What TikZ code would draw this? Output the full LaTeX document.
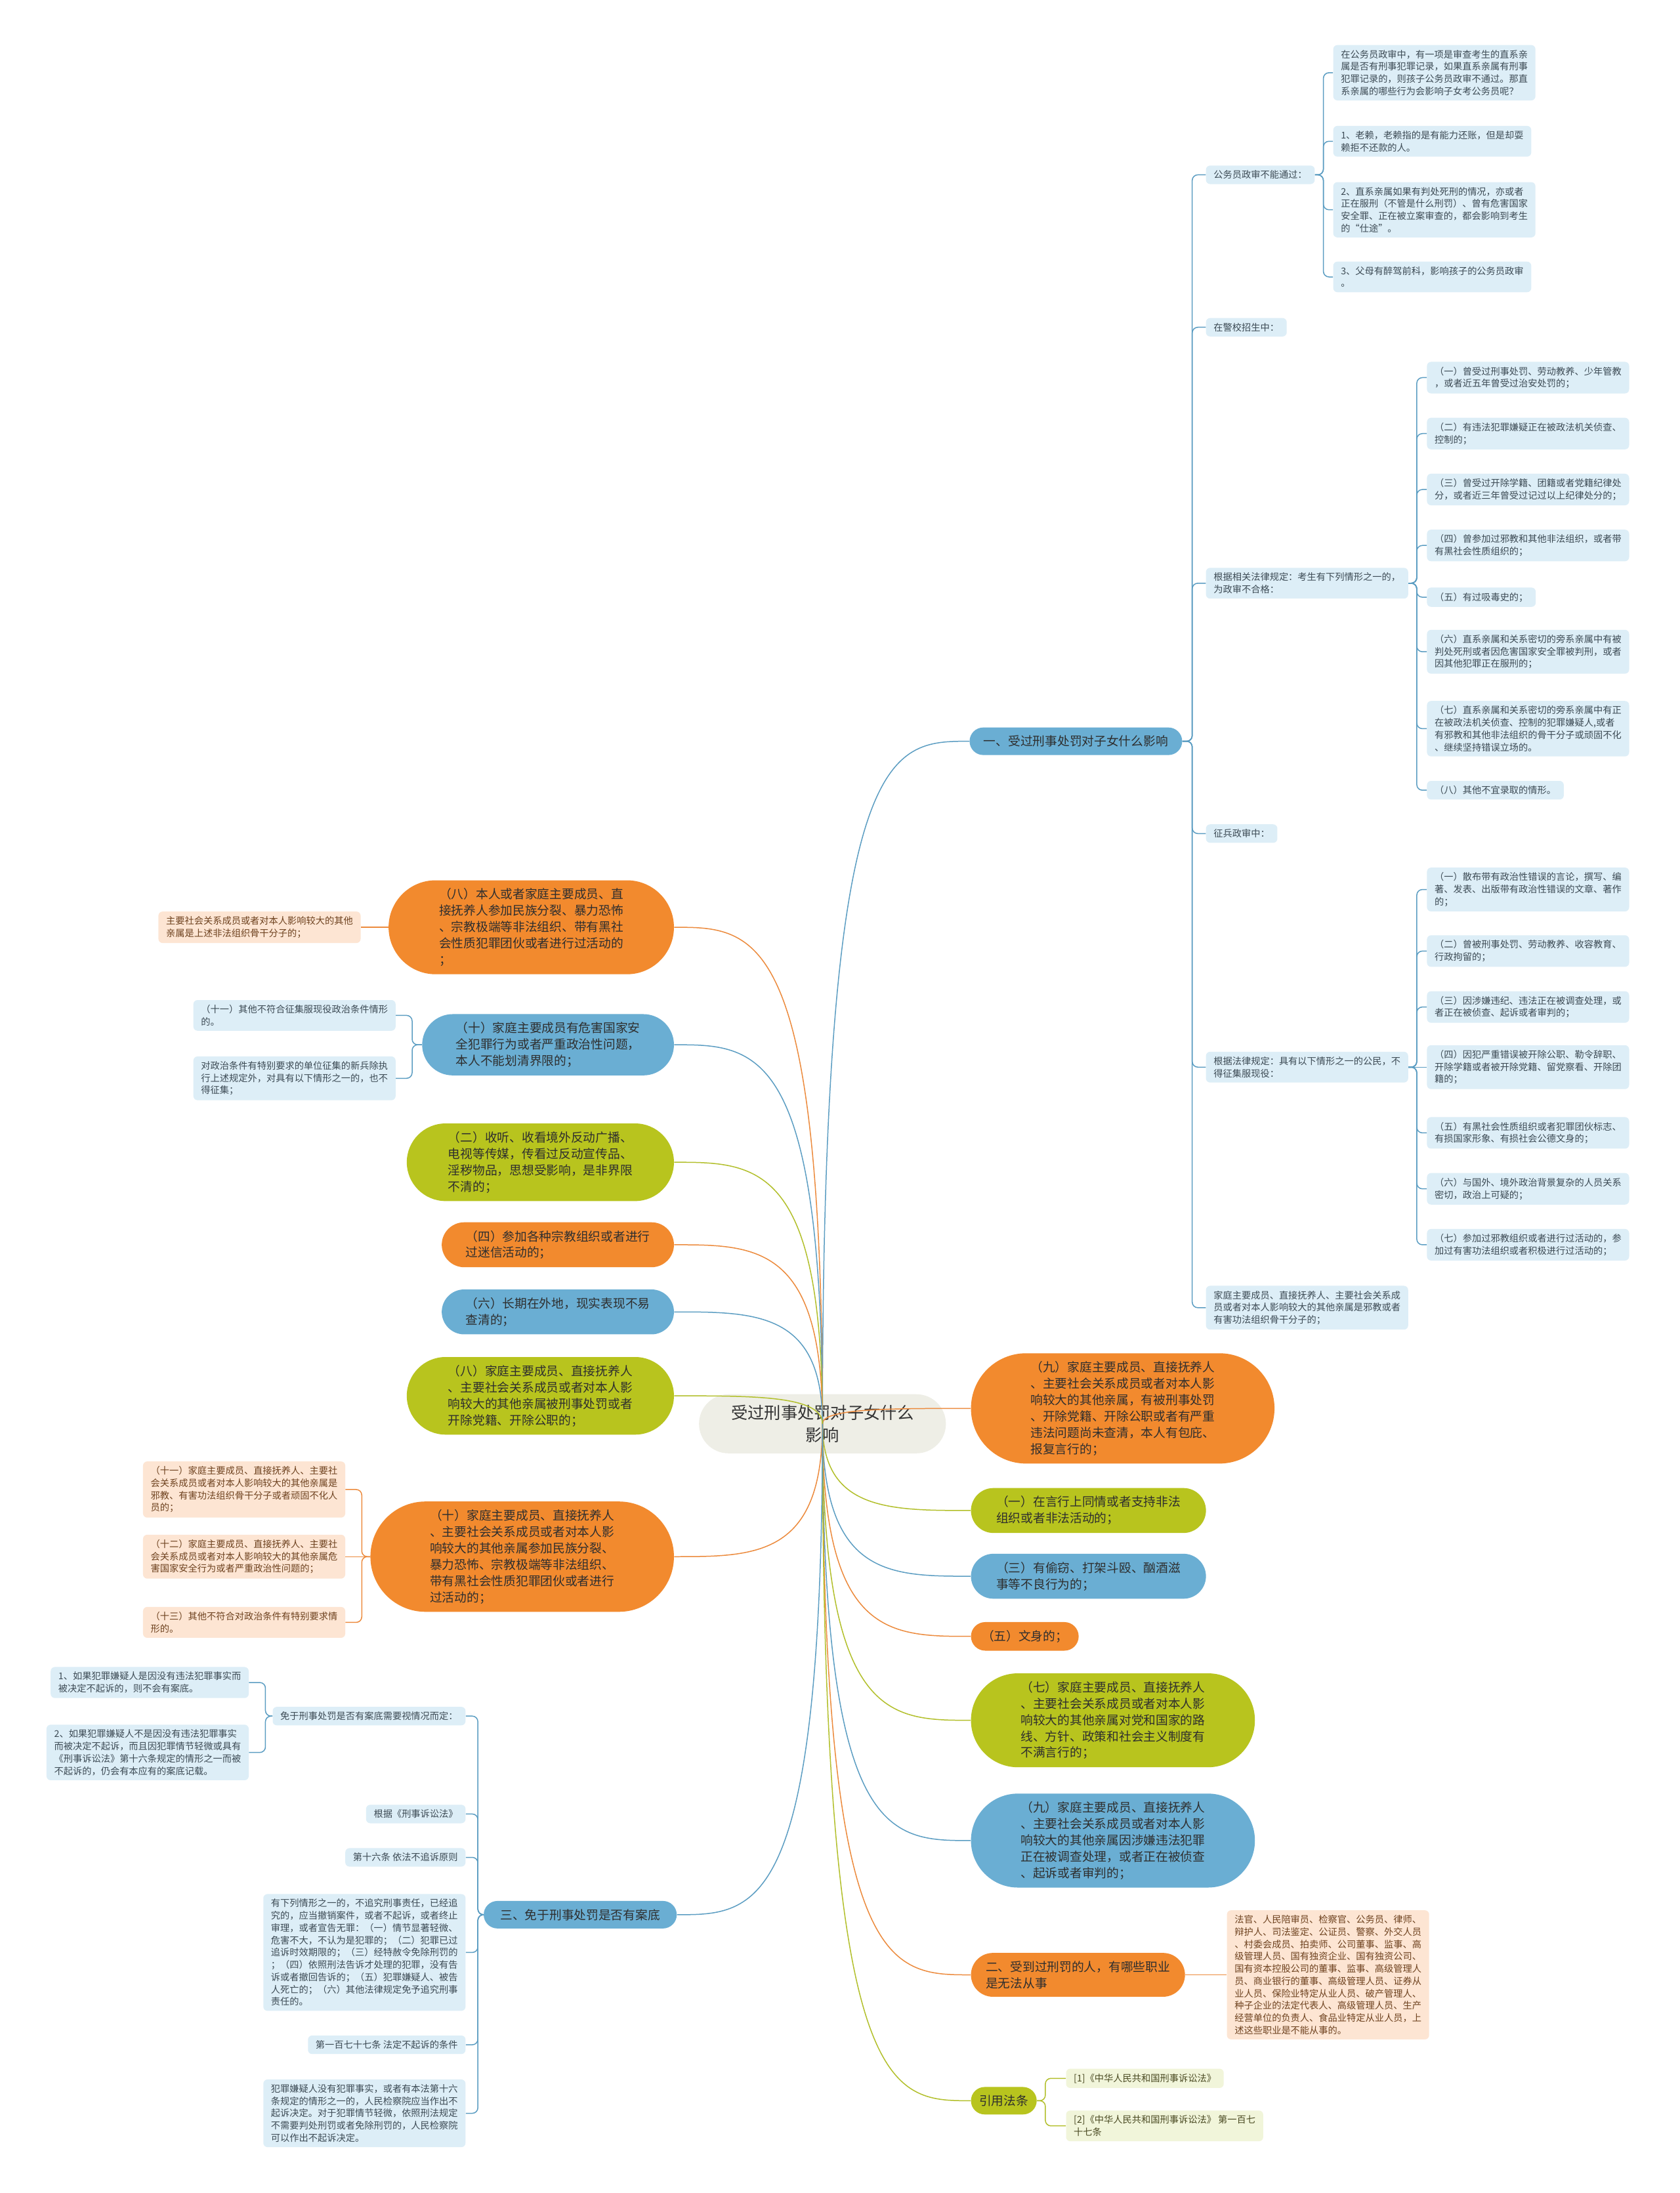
\documentclass[tikz,border=0pt]{standalone}
\usepackage{fontspec}
\setmainfont{Noto Sans CJK SC}
\usetikzlibrary{calc,shapes.misc}

\definecolor{brblue}{HTML}{6AAED3}
\definecolor{brorange}{HTML}{F28A2E}
\definecolor{brgreen}{HTML}{B8C41E}
\definecolor{lfblue}{HTML}{DDEEF7}
\definecolor{lfpeach}{HTML}{FDE5D3}
\definecolor{lfgreen}{HTML}{F1F5DA}
\definecolor{rootfill}{HTML}{EEEEE6}
\definecolor{lnblue}{HTML}{5B9DC2}
\definecolor{lnorange}{HTML}{EC8A3C}
\definecolor{lngreen}{HTML}{B2BF2A}
\definecolor{txblue}{HTML}{3C4A54}
\definecolor{txpeach}{HTML}{6E421F}
\definecolor{txgreen}{HTML}{4A4A22}

% curved connector from the central topic to a branch
\newcommand\hubedge[2]{%
  \draw[hub, draw=#1] (root.center) .. controls (root.center |- #2)
    and ($(root.center |- #2)!0.45!(#2)$) .. (#2);}

\begin{document}
\begin{tikzpicture}[
  x=0.4mm, y=-0.4mm,
  leaf/.style={fill=lfblue, text=txblue, rounded corners=1.2mm, align=left,
    inner xsep=2.2mm, inner ysep=1.4mm, font=\fontsize{7.6}{10}\selectfont},
  peachleaf/.style={leaf, fill=lfpeach, text=txpeach},
  limeleaf/.style={leaf, fill=lfgreen, text=txgreen},
  pill/.style={rounded rectangle, fill=#1, text=black!82, align=left,
    inner xsep=1mm, inner ysep=2.3mm, font=\fontsize{10}{13.3}\selectfont},
  root/.style={rounded rectangle, fill=rootfill, text=black!80, align=center,
    inner xsep=1.5mm, inner ysep=3mm, font=\fontsize{13.5}{18.5}\selectfont},
  hub/.style={line width=0.8pt},
  link/.style={line width=0.8pt, draw=lnblue, rounded corners=1.6mm},
  orangelink/.style={link, draw=lnorange},
  greenlink/.style={link, draw=lngreen}
]
\fill[white] (0,0) rectangle (1201,1568);
\useasboundingbox (0,0) rectangle (1201,1568);

\node[root, minimum width=73.6mm] (root) at (588,1018) {受过刑事处罚对子女什么\\影响};

% right side
\node[pill=brblue, anchor=west, minimum width=62.8mm] (b1) at (693,530) {一、受过刑事处罚对子女什么影响};

\node[leaf, anchor=west] (g1) at (862,125) {公务员政审不能通过：};
\node[leaf, anchor=west] (g2) at (862,234) {在警校招生中：};
\node[leaf, anchor=west] (g3) at (862,417) {根据相关法律规定：考生有下列情形之一的，\\为政审不合格：};
\node[leaf, anchor=west] (g4) at (862,596) {征兵政审中：};
\node[leaf, anchor=west] (g5) at (862,763) {根据法律规定：具有以下情形之一的公民，不\\得征集服现役：};
\node[leaf, anchor=west] (g6) at (862,935) {家庭主要成员、直接抚养人、主要社会关系成\\员或者对本人影响较大的其他亲属是邪教或者\\有害功法组织骨干分子的；};

\node[leaf, anchor=west] (g1a) at (953,52) {在公务员政审中，有一项是审查考生的直系亲\\属是否有刑事犯罪记录，如果直系亲属有刑事\\犯罪记录的，则孩子公务员政审不通过。那直\\系亲属的哪些行为会影响子女考公务员呢？};
\node[leaf, anchor=west] (g1b) at (953,101) {1、老赖，老赖指的是有能力还账，但是却耍\\赖拒不还款的人。};
\node[leaf, anchor=west] (g1c) at (953,150) {2、直系亲属如果有判处死刑的情况，亦或者\\正在服刑（不管是什么刑罚）、曾有危害国家\\安全罪、正在被立案审查的，都会影响到考生\\的“仕途”。};
\node[leaf, anchor=west] (g1d) at (953,198) {3、父母有醉驾前科，影响孩子的公务员政审\\。};

\node[leaf, anchor=west] (g3a) at (1020,270) {（一）曾受过刑事处罚、劳动教养、少年管教\\，或者近五年曾受过治安处罚的；};
\node[leaf, anchor=west] (g3b) at (1020,310) {（二）有违法犯罪嫌疑正在被政法机关侦查、\\控制的；};
\node[leaf, anchor=west] (g3c) at (1020,350) {（三）曾受过开除学籍、团籍或者党籍纪律处\\分，或者近三年曾受过记过以上纪律处分的；};
\node[leaf, anchor=west] (g3d) at (1020,390) {（四）曾参加过邪教和其他非法组织，或者带\\有黑社会性质组织的；};
\node[leaf, anchor=west] (g3e) at (1020,427) {（五）有过吸毒史的；};
\node[leaf, anchor=west] (g3f) at (1020,466) {（六）直系亲属和关系密切的旁系亲属中有被\\判处死刑或者因危害国家安全罪被判刑，或者\\因其他犯罪正在服刑的；};
\node[leaf, anchor=west] (g3g) at (1020,521) {（七）直系亲属和关系密切的旁系亲属中有正\\在被政法机关侦查、控制的犯罪嫌疑人,或者\\有邪教和其他非法组织的骨干分子或顽固不化\\、继续坚持错误立场的。};
\node[leaf, anchor=west] (g3h) at (1020,565) {（八）其他不宜录取的情形。};

\node[leaf, anchor=west] (g5a) at (1020,636) {（一）散布带有政治性错误的言论，撰写、编\\著、发表、出版带有政治性错误的文章、著作\\的；};
\node[leaf, anchor=west] (g5b) at (1020,680) {（二）曾被刑事处罚、劳动教养、收容教育、\\行政拘留的；};
\node[leaf, anchor=west] (g5c) at (1020,720) {（三）因涉嫌违纪、违法正在被调查处理，或\\者正在被侦查、起诉或者审判的；};
\node[leaf, anchor=west] (g5d) at (1020,763) {（四）因犯严重错误被开除公职、勒令辞职、\\开除学籍或者被开除党籍、留党察看、开除团\\籍的；};
\node[leaf, anchor=west] (g5e) at (1020,810) {（五）有黑社会性质组织或者犯罪团伙标志、\\有损国家形象、有损社会公德文身的；};
\node[leaf, anchor=west] (g5f) at (1020,850) {（六）与国外、境外政治背景复杂的人员关系\\密切，政治上可疑的；};
\node[leaf, anchor=west] (g5g) at (1020,890) {（七）参加过邪教组织或者进行过活动的，参\\加过有害功法组织或者积极进行过活动的；};

\node[pill=brorange, anchor=west, minimum width=88.8mm] (r2) at (694,1007) {（九）家庭主要成员、直接抚养人\\、主要社会关系成员或者对本人影\\响较大的其他亲属，有被刑事处罚\\、开除党籍、开除公职或者有严重\\违法问题尚未查清，本人有包庇、\\报复言行的；};
\node[pill=brgreen, anchor=west, minimum width=69.2mm] (r3) at (694,1080) {（一）在言行上同情或者支持非法\\组织或者非法活动的；};
\node[pill=brblue, anchor=west, minimum width=69.2mm] (r4) at (694,1127) {（三）有偷窃、打架斗殴、酗酒滋\\事等不良行为的；};
\node[pill=brorange, anchor=west, minimum width=32.8mm] (r5) at (694,1170) {（五）文身的；};
\node[pill=brgreen, anchor=west, minimum width=83.2mm] (r6) at (694,1230) {（七）家庭主要成员、直接抚养人\\、主要社会关系成员或者对本人影\\响较大的其他亲属对党和国家的路\\线、方针、政策和社会主义制度有\\不满言行的；};
\node[pill=brblue, anchor=west, minimum width=83.2mm] (r7) at (694,1316) {（九）家庭主要成员、直接抚养人\\、主要社会关系成员或者对本人影\\响较大的其他亲属因涉嫌违法犯罪\\正在被调查处理，或者正在被侦查\\、起诉或者审判的；};
\node[pill=brorange, anchor=west, minimum width=63.2mm] (r8) at (694,1412) {二、受到过刑罚的人，有哪些职业\\是无法从事};
\node[peachleaf, anchor=west] (r8a) at (877,1412) {法官、人民陪审员、检察官、公务员、律师、\\辩护人、司法鉴定、公证员、警察、外交人员\\、村委会成员、拍卖师、公司董事、监事、高\\级管理人员、国有独资企业、国有独资公司、\\国有资本控股公司的董事、监事、高级管理人\\员、商业银行的董事、高级管理人员、证券从\\业人员、保险业特定从业人员、破产管理人、\\种子企业的法定代表人、高级管理人员、生产\\经营单位的负责人、食品业特定从业人员，上\\述这些职业是不能从事的。};
\node[pill=brgreen, anchor=west, minimum width=20.8mm] (r9) at (694,1502) {引用法条};
\node[limeleaf, anchor=west] (r9a) at (762,1486) {[1]《中华人民共和国刑事诉讼法》};
\node[limeleaf, anchor=west] (r9b) at (762,1520) {[2]《中华人民共和国刑事诉讼法》 第一百七\\十七条};

% left side
\node[pill=brorange, anchor=east, minimum width=83.6mm] (l1) at (482,663) {（八）本人或者家庭主要成员、直\\接抚养人参加民族分裂、暴力恐怖\\、宗教极端等非法组织、带有黑社\\会性质犯罪团伙或者进行过活动的\\；};
\node[peachleaf, anchor=east] (l1a) at (258,663) {主要社会关系成员或者对本人影响较大的其他\\亲属是上述非法组织骨干分子的；};
\node[pill=brblue, anchor=east, minimum width=74mm] (l2) at (482,747) {（十）家庭主要成员有危害国家安\\全犯罪行为或者严重政治性问题，\\本人不能划清界限的；};
\node[leaf, anchor=east] (l2a) at (283,726) {（十一）其他不符合征集服现役政治条件情形\\的。};
\node[leaf, anchor=east] (l2b) at (283,771) {对政治条件有特别要求的单位征集的新兵除执\\行上述规定外，对具有以下情形之一的，也不\\得征集；};
\node[pill=brgreen, anchor=east, minimum width=78.4mm] (l3) at (482,831) {（二）收听、收看境外反动广播、\\电视等传媒，传看过反动宣传品、\\淫秽物品，思想受影响，是非界限\\不清的；};
\node[pill=brorange, anchor=east, minimum width=68.4mm] (l4) at (482,890) {（四）参加各种宗教组织或者进行\\过迷信活动的；};
\node[pill=brblue, anchor=east, minimum width=68.4mm] (l5) at (482,938) {（六）长期在外地，现实表现不易\\查清的；};
\node[pill=brgreen, anchor=east, minimum width=78.4mm] (l6) at (482,998) {（八）家庭主要成员、直接抚养人\\、主要社会关系成员或者对本人影\\响较大的其他亲属被刑事处罚或者\\开除党籍、开除公职的；};
\node[pill=brorange, anchor=east, minimum width=88.8mm] (l7) at (482,1113) {（十）家庭主要成员、直接抚养人\\、主要社会关系成员或者对本人影\\响较大的其他亲属参加民族分裂、\\暴力恐怖、宗教极端等非法组织、\\带有黑社会性质犯罪团伙或者进行\\过活动的；};
\node[peachleaf, anchor=east] (l7a) at (247,1065) {（十一）家庭主要成员、直接抚养人、主要社\\会关系成员或者对本人影响较大的其他亲属是\\邪教、有害功法组织骨干分子或者顽固不化人\\员的；};
\node[peachleaf, anchor=east] (l7b) at (247,1113) {（十二）家庭主要成员、直接抚养人、主要社\\会关系成员或者对本人影响较大的其他亲属危\\害国家安全行为或者严重政治性问题的；};
\node[peachleaf, anchor=east] (l7c) at (247,1160) {（十三）其他不符合对政治条件有特别要求情\\形的。};

\node[pill=brblue, anchor=east, minimum width=57.2mm] (l8) at (484,1369) {三、免于刑事处罚是否有案底};
\node[leaf, anchor=east] (l8a) at (333,1227) {免于刑事处罚是否有案底需要视情况而定：};
\node[leaf, anchor=east] (l8a1) at (178,1203) {1、如果犯罪嫌疑人是因没有违法犯罪事实而\\被决定不起诉的，则不会有案底。};
\node[leaf, anchor=east] (l8a2) at (178,1253) {2、如果犯罪嫌疑人不是因没有违法犯罪事实\\而被决定不起诉，而且因犯罪情节轻微或具有\\《刑事诉讼法》第十六条规定的情形之一而被\\不起诉的，仍会有本应有的案底记载。};
\node[leaf, anchor=east] (l8b) at (333,1297) {根据《刑事诉讼法》};
\node[leaf, anchor=east] (l8c) at (333,1328) {第十六条 依法不追诉原则};
\node[leaf, anchor=east] (l8d) at (333,1396) {有下列情形之一的，不追究刑事责任，已经追\\究的，应当撤销案件，或者不起诉，或者终止\\审理，或者宣告无罪：（一）情节显著轻微、\\危害不大，不认为是犯罪的；（二）犯罪已过\\追诉时效期限的；（三）经特赦令免除刑罚的\\；（四）依照刑法告诉才处理的犯罪，没有告\\诉或者撤回告诉的；（五）犯罪嫌疑人、被告\\人死亡的；（六）其他法律规定免予追究刑事\\责任的。};
\node[leaf, anchor=east] (l8e) at (333,1462) {第一百七十七条 法定不起诉的条件};
\node[leaf, anchor=east] (l8f) at (333,1511) {犯罪嫌疑人没有犯罪事实，或者有本法第十六\\条规定的情形之一的，人民检察院应当作出不\\起诉决定。对于犯罪情节轻微，依照刑法规定\\不需要判处刑罚或者免除刑罚的，人民检察院\\可以作出不起诉决定。};

% connectors from the centre
\hubedge{lnblue}{b1.west}
\hubedge{lnorange}{r2.west}
\hubedge{lngreen}{r3.west}
\hubedge{lnblue}{r4.west}
\hubedge{lnorange}{r5.west}
\hubedge{lngreen}{r6.west}
\hubedge{lnblue}{r7.west}
\hubedge{lnorange}{r8.west}
\hubedge{lngreen}{r9.west}
\hubedge{lnorange}{l1.east}
\hubedge{lnblue}{l2.east}
\hubedge{lngreen}{l3.east}
\hubedge{lnorange}{l4.east}
\hubedge{lnblue}{l5.east}
\hubedge{lngreen}{l6.east}
\hubedge{lnorange}{l7.east}
\hubedge{lnblue}{l8.east}

% subtree connectors
\foreach \c in {g1,g2,g3,g4,g5,g6}
  \draw[link] (b1.east) -- ++(7,0) |- (\c.west);
\foreach \c in {g1a,g1b,g1c,g1d}
  \draw[link] (g1.east) -- ++(6,0) |- (\c.west);
\foreach \c in {g3a,g3b,g3c,g3d,g3e,g3f,g3g,g3h}
  \draw[link] (g3.east) -- ++(6,0) |- (\c.west);
\foreach \c in {g5a,g5b,g5c,g5e,g5f,g5g}
  \draw[link] (g5.east) -- ++(6,0) |- (\c.west);
\draw[link] (g5.east) -- (g5d.west);
\draw[orangelink] (r8.east) -- (r8a.west);
\foreach \c in {r9a,r9b}
  \draw[greenlink] (r9.east) -- ++(6,0) |- (\c.west);
\draw[orangelink] (l1.west) -- (l1a.east);
\foreach \c in {l2a,l2b}
  \draw[link] (l2.west) -- ++(-7,0) |- (\c.east);
\foreach \c in {l7a,l7c}
  \draw[orangelink] (l7.west) -- ++(-6,0) |- (\c.east);
\draw[orangelink] (l7.west) -- (l7b.east);
\foreach \c in {l8a,l8b,l8c,l8d,l8e,l8f}
  \draw[link] (l8.west) -- ++(-4,0) |- (\c.east);
\foreach \c in {l8a1,l8a2}
  \draw[link] (l8a.west) -- ++(-5,0) |- (\c.east);
\end{tikzpicture}
\end{document}
